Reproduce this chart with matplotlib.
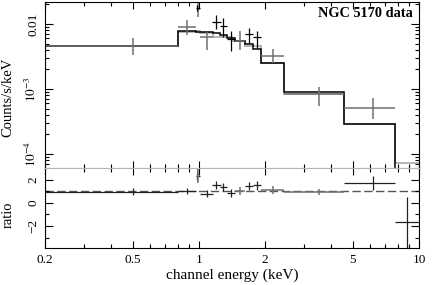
"""XSPEC-style folded spectrum + ratio plot for NGC 5170."""

import matplotlib
matplotlib.use('Agg')
import matplotlib.pyplot as plt
import numpy as np
from matplotlib.ticker import FixedLocator, FixedFormatter, NullFormatter, LogLocator, MultipleLocator

plt.rcParams['font.family'] = ['Liberation Serif', 'DejaVu Serif']
plt.rcParams['mathtext.fontset'] = 'stix'

# ---- top panel: gray dataset (E, E_lo, E_hi, counts, lo, hi) ----
gray_e = [0.5, 0.883, 0.99, 1.088, 1.539, 2.18, 3.52, 6.18]
gray_elo = [0.2, 0.8, 0.985, 1.01, 1.459, 1.915, 2.44, 4.57]
gray_ehi = [0.8, 0.97, 0.995, 1.16, 1.62, 2.44, 4.57, 7.78]
gray_y = [4.59e-3, 8.99e-3, 1.9e-2, 6.24e-3, 5.53e-3, 3.25e-3, 8.28e-4, 5.15e-4]
gray_ylo = [3.33e-3, 6.78e-3, 1.28e-2, 3.98e-3, 3.98e-3, 2.51e-3, 5.47e-4, 3.45e-4]
gray_yhi = [6.09e-3, 1.153e-2, 3.0e-2, 7.53e-3, 7.80e-3, 4.12e-3, 1.074e-3, 7.28e-4]

# ---- top panel: black dataset ----
blk_e = [0.985, 1.197, 1.291, 1.40, 1.695, 1.838]
blk_elo = [0.97, 1.146, 1.25, 1.343, 1.62, 1.762]
blk_ehi = [1.01, 1.26, 1.343, 1.459, 1.762, 1.915]
blk_y = [1.762e-2, 1.084e-2, 9.31e-3, 5.82e-3, 6.95e-3, 6.24e-3]
blk_ylo = [1.585e-2, 8.38e-3, 6.31e-3, 3.85e-3, 5.11e-3, 4.28e-3]
blk_yhi = [1.96e-2, 1.375e-2, 1.236e-2, 7.80e-3, 8.68e-3, 7.80e-3]

# ---- folded models (step functions) ----
mod_blk_edges = [0.2, 0.8, 0.97, 1.16, 1.25, 1.343, 1.459, 1.62, 1.762, 1.915, 2.44, 4.57, 7.78, 10]
mod_blk_vals = [4.59e-3, 7.80e-3, 7.53e-3, 7.27e-3, 6.78e-3, 6.09e-3, 5.57e-3, 4.92e-3,
                4.12e-3, 2.51e-3, 9.0e-4, 2.90e-4, 2e-5]
mod_gray_edges = [0.2, 0.8, 0.97, 1.01, 1.16, 1.41, 1.62, 1.915, 2.44, 4.57, 7.78, 10]
mod_gray_vals = [4.59e-3, 7.53e-3, 7.80e-3, 7.27e-3, 6.31e-3, 5.47e-3, 4.59e-3, 2.51e-3,
                 8.37e-4, 2.90e-4, 7.28e-5]

# ---- ratio panel ----
rat_blk_e = [0.5, 0.883, 0.985, 1.088, 1.197, 1.291, 1.40, 1.695, 1.838, 6.18, 8.86]
rat_blk_elo = [0.2, 0.8, 0.97, 1.01, 1.146, 1.25, 1.343, 1.62, 1.762, 4.57, 7.78]
rat_blk_ehi = [0.8, 0.97, 1.01, 1.16, 1.26, 1.343, 1.459, 1.762, 1.915, 7.78, 10]
rat_blk_r = [0.95, 1.02, 2.28, 0.79, 1.57, 1.36, 0.88, 1.45, 1.51, 1.74, -1.66]
rat_blk_dn = [0.3, 0.25, 0.35, 0.3, 0.35, 0.35, 0.35, 0.35, 0.4, 0.6, 3.0]
rat_blk_up = [0.3, 0.25, 0.35, 0.3, 0.35, 0.35, 0.35, 0.35, 0.4, 0.6, 2.2]

rat_gray_e = [0.99, 1.539, 2.18, 3.52]
rat_gray_elo = [0.985, 1.459, 1.915, 2.44]
rat_gray_ehi = [0.995, 1.62, 2.44, 4.57]
rat_gray_r = [2.7, 1.02, 1.08, 0.93]
rat_gray_dn = [1.0, 0.35, 0.35, 0.3]
rat_gray_up = [1.5, 0.35, 0.35, 0.3]

xticks = [0.2, 0.5, 1, 2, 5, 10]
xticklabels = ['0.2', '0.5', '1', '2', '5', '10']
xminor = [0.3, 0.4, 0.6, 0.7, 0.8, 0.9, 3, 4, 6, 7, 8, 9]

GRAY = '#707070'
LIGHT = '#b4b4b4'


def _xerr(e, lo, hi):
    e = np.asarray(e)
    return [e - np.asarray(lo), np.asarray(hi) - e]


fig = plt.figure(figsize=(4.36, 2.85), dpi=100)
ax1 = fig.add_axes([45 / 436, 117 / 285, 374 / 436, 166 / 285])
ax2 = fig.add_axes([45 / 436, 37 / 285, 374 / 436, 80 / 285], sharex=ax1)

# top panel
ax1.stairs(mod_gray_vals, mod_gray_edges, color=LIGHT, lw=1.4, baseline=None)
ax1.stairs(mod_blk_vals, mod_blk_edges, color='black', lw=1.1, baseline=None)
g_y = np.asarray(gray_y)
ax1.errorbar(gray_e, gray_y, xerr=_xerr(gray_e, gray_elo, gray_ehi),
             yerr=[g_y - np.asarray(gray_ylo), np.asarray(gray_yhi) - g_y],
             fmt='none', ecolor=GRAY, elinewidth=1.1, capsize=0)
b_y = np.asarray(blk_y)
ax1.errorbar(blk_e, blk_y, xerr=_xerr(blk_e, blk_elo, blk_ehi),
             yerr=[b_y - np.asarray(blk_ylo), np.asarray(blk_yhi) - b_y],
             fmt='none', ecolor='black', elinewidth=0.9, capsize=0)
ax1.set_xscale('log')
ax1.set_yscale('log')
ax1.set_xlim(0.2, 10)
ax1.set_ylim(6.1e-5, 2.18e-2)
ax1.yaxis.set_major_locator(FixedLocator([1e-4, 1e-3, 1e-2]))
ax1.yaxis.set_major_formatter(FixedFormatter([r'$10^{-4}$', r'$10^{-3}$', '0.01']))
ax1.yaxis.set_minor_locator(LogLocator(base=10, subs=range(2, 10), numticks=20))
ax1.yaxis.set_minor_formatter(NullFormatter())
ax1.text(0.984, 0.928, 'NGC 5170 data', transform=ax1.transAxes, ha='right',
         va='center', fontsize=10.3, fontweight='bold')
ax1.spines['bottom'].set_color(LIGHT)
plt.setp(ax1.get_xticklabels(), visible=False)

# ratio panel
ax2.axhline(1.0, color='#555555', lw=1.0, dashes=(6, 2.5), zorder=1)
ax2.errorbar(rat_blk_e, rat_blk_r, xerr=_xerr(rat_blk_e, rat_blk_elo, rat_blk_ehi),
             yerr=[rat_blk_dn, rat_blk_up], fmt='none', ecolor='#222222',
             elinewidth=0.9, capsize=0)
ax2.errorbar(rat_gray_e, rat_gray_r, xerr=_xerr(rat_gray_e, rat_gray_elo, rat_gray_ehi),
             yerr=[rat_gray_dn, rat_gray_up], fmt='none', ecolor=GRAY,
             elinewidth=1.1, capsize=0)
ax2.set_ylim(-3.9, 3.0)
ax2.yaxis.set_major_locator(FixedLocator([-2, 0, 2]))
ax2.yaxis.set_major_formatter(FixedFormatter(['\u22122', '0', '2']))
ax2.yaxis.set_minor_locator(MultipleLocator(1))
ax2.spines['top'].set_color(LIGHT)
ax2.set_xticks(xticks)
ax2.set_xticklabels(xticklabels)
ax2.set_xticks(xminor, minor=True)
ax2.xaxis.set_minor_formatter(NullFormatter())
ax2.set_xlabel('channel energy (keV)', fontsize=11, labelpad=2)

for ax in (ax1, ax2):
    ax.tick_params(which='both', direction='in', top=True, right=True,
                   labelsize=9.5, width=0.8)
    ax.tick_params(which='major', length=5)
    ax.tick_params(which='minor', length=3)
    ax.tick_params(axis='y', which='major', length=6, labelrotation=90, pad=4)
    ax.tick_params(axis='x', pad=4)
    for lbl in ax.get_yticklabels():
        lbl.set_va('center')

fig.text(8 / 436, 1 - 97 / 285, 'Counts/s/keV', rotation=90, ha='center',
         va='center', fontsize=10.5)
fig.text(8 / 436, 1 - 215 / 285, 'ratio', rotation=90, ha='center',
         va='center', fontsize=10.5)

fig.savefig('out.png', dpi=100)
